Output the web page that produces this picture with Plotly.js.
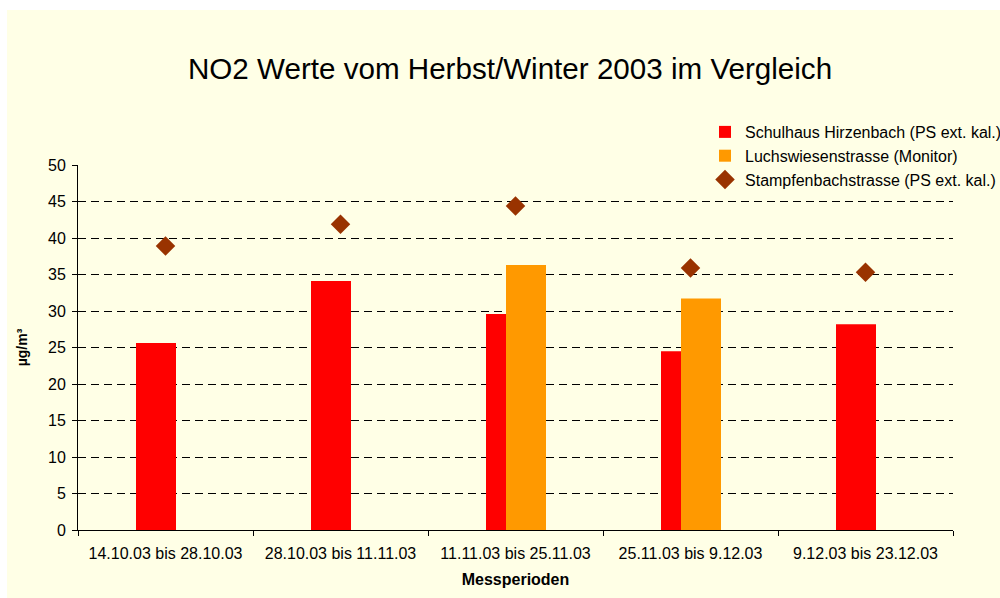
<!DOCTYPE html>
<html>
<head>
<meta charset="utf-8">
<script src="https://cdn.plot.ly/plotly-3.0.1.min.js"></script>
<style>
html,body{margin:0;padding:0;background:#FFFFFF;overflow:hidden;}
#chart{position:absolute;left:7px;top:10px;width:993px;height:588px;}
</style>
</head>
<body>
<div id="chart"></div>
<script>
const categories = ["14.10.03 bis 28.10.03", "28.10.03 bis 11.11.03", "11.11.03 bis 25.11.03", "25.11.03 bis 9.12.03", "9.12.03 bis 23.12.03"];
const hirzenbach = [25.6, 34.1, 29.6, 24.5, 28.2];
const luchswiesen = [null, null, 36.3, 31.7, null];
const stampfenbach = [38.9, 41.9, 44.4, 35.9, 35.3];
const seriesNames = ["Schulhaus Hirzenbach (PS ext. kal.)", "Luchswiesenstrasse (Monitor)", "Stampfenbachstrasse (PS ext. kal.)"];

const font = "Liberation Sans, Arial, sans-serif";
const bw = 40/175;

const traces = [
  {type: "bar", x: categories, y: hirzenbach, name: seriesNames[0],
   marker: {color: "#FF0000"}, width: bw, offset: -29.5/175, hoverinfo: "y"},
  {type: "bar", x: categories, y: luchswiesen, name: seriesNames[1],
   marker: {color: "#FF9900"}, width: bw, offset: -9.5/175, hoverinfo: "y"},
  {type: "scatter", mode: "markers", x: categories, y: stampfenbach, name: seriesNames[2],
   marker: {symbol: "diamond", size: 15, color: "#993300"}, hoverinfo: "y"}
];

const layout = {
  width: 993, height: 588,
  paper_bgcolor: "#FFFFE6", plot_bgcolor: "#FFFFE6",
  font: {family: font, size: 16, color: "#000"},
  margin: {l: 71, r: 47, t: 155, b: 68, pad: 0, autoexpand: false},
  barmode: "overlay",
  showlegend: true,
  title: {text: "NO2 Werte vom Herbst/Winter 2003 im Vergleich", font: {family: font, size: 29.6, color: "#000"},
          x: 0.5066, xanchor: "center", y: 0.901, yanchor: "middle"},
  xaxis: {type: "category", showline: true, linecolor: "#000", linewidth: 1, ticks: "outside", tickson: "boundaries",
          ticklen: 5, tickcolor: "#000", showgrid: false, tickfont: {size: 16}, ticklabelstandoff: 9,
          title: {text: "<b>Messperioden</b>", font: {size: 16}, standoff: 12}},
  yaxis: {range: [0, 50], dtick: 5, showline: true, linecolor: "#000", linewidth: 1, ticks: "outside", ticklen: 5,
          tickcolor: "#000", gridcolor: "#000", griddash: "8px,5px", gridwidth: 1, zeroline: false, tickfont: {size: 16},
          ticklabelstandoff: 3,
          title: {text: "<b>µg/m³</b>", font: {size: 14}, standoff: 17}},
  legend: {x: 0.7166, y: 1.137, xanchor: "left", yanchor: "top", bgcolor: "rgba(0,0,0,0)", font: {size: 16},
           traceorder: "normal"}
};

Plotly.newPlot("chart", traces, layout, {displayModeBar: false, staticPlot: true});
</script>
</body>
</html>
